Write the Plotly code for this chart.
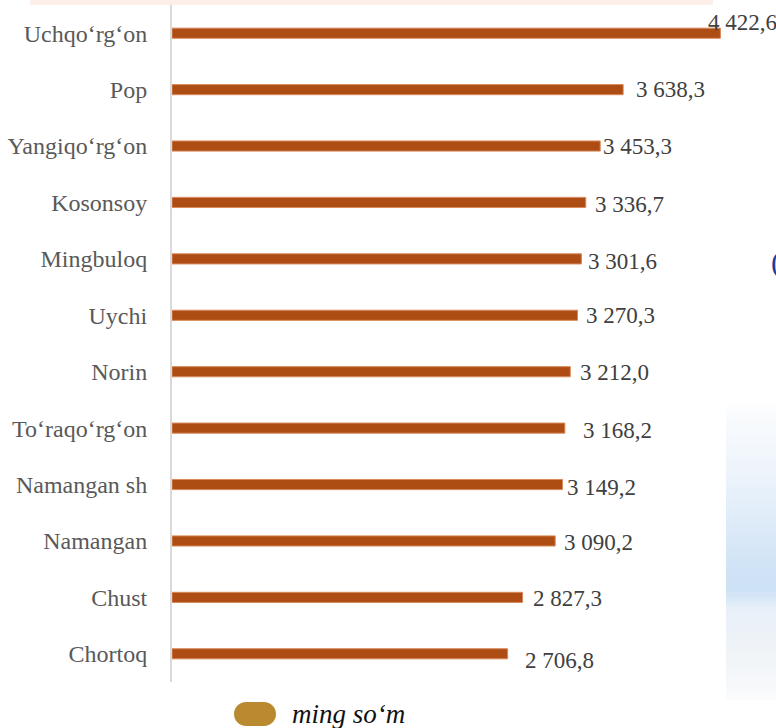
import plotly.graph_objects as go

# District values, top to bottom
districts = ["Uchqo‘rg‘on", "Pop", "Yangiqo‘rg‘on", "Kosonsoy", "Mingbuloq", "Uychi",
             "Norin", "To‘raqo‘rg‘on", "Namangan sh", "Namangan", "Chust", "Chortoq"]
values = [4422.6, 3638.3, 3453.3, 3336.7, 3301.6, 3270.3,
          3212.0, 3168.2, 3149.2, 3090.2, 2827.3, 2706.8]
unit_label = "ming so‘m"

# per-label nudges (pixels) for the value annotations
label_dx = [-14, 11, 1, 7, 5, 6, 8, 16, 2, 7, 8, 15]
label_dy = [11, 0, 0, -2, -3, 0, -1, -2, -3, -2, -1, -7]

W, H = 776, 728
L, R, T, B = 172, 0, 5, 46
PW, PH = W - L - R, H - T - B
X_MAX = PW / 0.124


def px(x):
    return (x - L) / PW


def py(y):
    return (H - B - y) / PH


def fmt(v):
    return f"{v:,.1f}".replace(",", " ").replace(".", ",")


fig = go.Figure()
fig.add_trace(go.Bar(
    y=districts, x=values, orientation="h", width=0.18,
    marker=dict(color="#AE4D13", line=dict(color="#D88A5C", width=1)),
    hoverinfo="x+y", showlegend=False,
))

annotations = []
for d, v, dx, dy in zip(districts, values, label_dx, label_dy):
    annotations.append(dict(
        x=v, y=d, xref="x", yref="y", text=fmt(v), showarrow=False,
        xanchor="left", yanchor="middle", xshift=dx, yshift=dy,
        font=dict(family="Liberation Serif", size=23, color="#404040"),
    ))

# legend text
annotations.append(dict(
    x=px(290), y=py(714), xref="paper", yref="paper",
    text="<i>" + unit_label + "</i>",
    showarrow=False, xanchor="left", yanchor="middle",
    font=dict(family="Liberation Serif", size=27, color="#111111"),
))

# bracket peeking in at the right edge
annotations.append(dict(
    x=px(769), y=py(262), xref="paper", yref="paper", text="(",
    showarrow=False, xanchor="left", yanchor="middle",
    font=dict(family="Liberation Serif", size=30, color="#1F3C98"),
))

shapes = []
# pale band along the top edge
shapes.append(dict(type="rect", xref="paper", yref="paper",
                   x0=px(30), x1=px(713), y0=py(5), y1=py(-2),
                   fillcolor="#FCEEE8", line=dict(width=0), layer="below"))

# sky strip on the right edge: smooth blend between a few stop colours
stops = [(405, (252, 253, 254)), (470, (238, 244, 251)), (560, (210, 228, 246)),
         (590, (205, 225, 245)), (610, (232, 240, 248)), (650, (239, 243, 247)),
         (700, (250, 251, 252))]
n_bands = 60
y_top, y_bot = stops[0][0], stops[-1][0]
step = (y_bot - y_top) / n_bands


def blend(y):
    for (ya, ca), (yb, cb) in zip(stops[:-1], stops[1:]):
        if ya <= y <= yb:
            t = (y - ya) / (yb - ya)
            return tuple(round(a + (b - a) * t) for a, b in zip(ca, cb))
    return stops[-1][1]


for i in range(n_bands):
    ya = y_top + i * step
    c = blend(ya + step / 2)
    yb = min(ya + step + 2, y_bot)
    shapes.append(dict(type="rect", xref="paper", yref="paper",
                       x0=px(726), x1=px(777), y0=py(yb), y1=py(ya),
                       fillcolor="rgb(%d,%d,%d)" % c, line=dict(width=0),
                       layer="below"))

# rounded legend swatch
x0, x1, y0, y1, r = 234, 276, 702, 726, 12
k = 0.55 * r
pts = [
    ("M", [(x0 + r, y0)]),
    ("L", [(x1 - r, y0)]),
    ("C", [(x1 - r + k, y0), (x1, y0 + r - k), (x1, y0 + r)]),
    ("C", [(x1, y1 - r + k), (x1 - r + k, y1), (x1 - r, y1)]),
    ("L", [(x0 + r, y1)]),
    ("C", [(x0 + r - k, y1), (x0, y1 - r + k), (x0, y1 - r)]),
    ("C", [(x0, y0 + r - k), (x0 + r - k, y0), (x0 + r, y0)]),
]
path = ""
for cmd, ps in pts:
    path += cmd + " " + " ".join(f"{px(a):.5f},{py(b):.5f}" for a, b in ps) + " "
path += "Z"
shapes.append(dict(type="path", xref="paper", yref="paper", path=path,
                   fillcolor="#B98A30", line=dict(width=0)))

fig.update_layout(
    width=W, height=H,
    margin=dict(l=L, r=R, t=T, b=B),
    paper_bgcolor="white", plot_bgcolor="white",
    xaxis=dict(range=[0, X_MAX], visible=False, showgrid=False, zeroline=False,
               fixedrange=True),
    yaxis=dict(categoryorder="array", categoryarray=districts, autorange="reversed",
               showline=True, linecolor="#D9D9D9", linewidth=2, ticks="",
               showgrid=False, ticklabelstandoff=18,
               tickfont=dict(family="Liberation Serif", size=24, color="#595959")),
    annotations=annotations, shapes=shapes, bargap=0.8,
)

fig.write_html("out.html")
